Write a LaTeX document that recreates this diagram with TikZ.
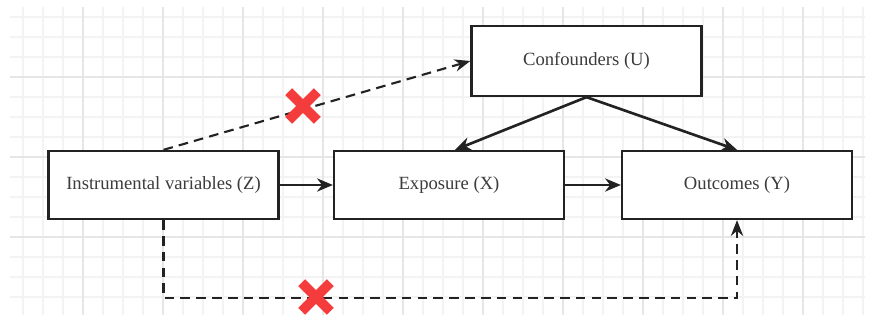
\documentclass[tikz,border=0pt]{standalone}
\usepackage{fontspec}
\setmainfont{Liberation Serif}
\usepackage{tikz}
\usetikzlibrary{arrows.meta,shapes.misc,positioning,calc}
\usepackage{xcolor}
\definecolor{ivline}{RGB}{34,34,34}
\definecolor{ivtext}{RGB}{60,60,60}
\definecolor{ivred}{RGB}{245,60,60}
\definecolor{ivgridminor}{RGB}{243,243,243}
\definecolor{ivgridmajor}{RGB}{230,230,230}
\tikzstyle{varbox} = [rectangle, minimum width=4.6cm, minimum height=1.36cm, text centered, draw=ivline, fill=white, line width=1.3pt, text=ivtext, font=\fontsize{10.6}{12}\selectfont]
\tikzstyle{arrow} = [line width=1.5pt, ivline, -{Stealth[length=9pt,width=7.5pt]}]
\tikzstyle{noarrow} = [line width=1.2pt, ivline, dash pattern=on 5.5pt off 3.5pt, -{Stealth[length=9pt,width=7pt]}]
\tikzstyle{nolink} = [cross out, draw=ivred, line width=5.5pt, minimum size=0.38cm, inner sep=0pt]

\begin{document}
\begin{tikzpicture}
\useasboundingbox (0,0) rectangle (17.5,-6.48);
% grid paper
\begin{scope}
\clip (0.2,-0.16) rectangle (17.3,-6.3);
\draw[ivgridminor, line width=0.6pt, shift={(0.06,-0.34)}] (-1,-7) grid[step=0.4] (18,1);
\draw[ivgridmajor, line width=0.8pt, shift={(1.66,-1.54)}] (-3.2,-6.4) grid[step=1.6] (17.6,3.2);
\end{scope}
% variables
\node[varbox] (z) at (3.27,-3.70) {Instrumental variables (Z)};
\node[varbox] (x) at (8.98,-3.70) {Exposure (X)};
\node[varbox] (y) at (14.74,-3.70) {Outcomes (Y)};
\node[varbox, minimum height=1.4cm] (u) at (11.73,-1.22) {Confounders (U)};

\draw[arrow] (z.east) -- (x.west);
\draw[arrow] (x.east) -- (y.west);
\draw[arrow] (u.south) -- ($(x.north)+(0.12,0)$);
\draw[arrow] (u.south) -- (y.north);

% violated assumptions
\draw[noarrow] (z.north) -- (u.west);
\draw[noarrow] (z.south) -- ++(0,-1.56) -| (y.south);
\node[nolink] (c1) at (6.06,-2.12) {};
\node[nolink] (c2) at (6.32,-5.94) {};
\end{tikzpicture}
\end{document}
